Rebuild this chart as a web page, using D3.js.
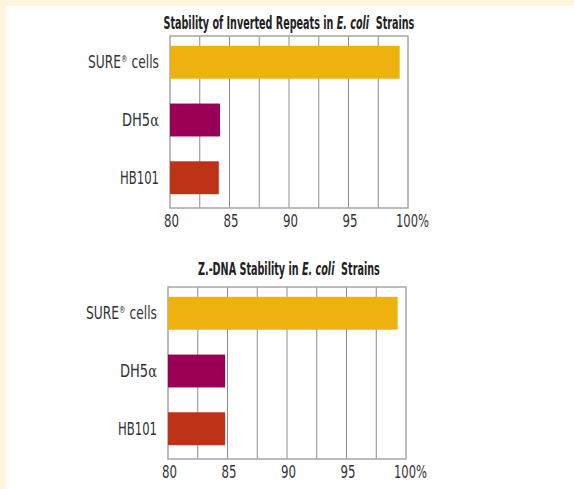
<!DOCTYPE html>
<html>
<head>
<meta charset="utf-8">
<script src="https://cdn.jsdelivr.net/npm/d3@7"></script>
<style>
  body { margin: 0; background: #fff; }
  svg { display: block; }
  .lbl { font-family: "DejaVu Sans Condensed", "DejaVu Sans", sans-serif; font-stretch: condensed; fill: #333; }
  .ttl { font-family: "DejaVu Sans Condensed", "DejaVu Sans", sans-serif; font-stretch: condensed; font-weight: bold; fill: #222; white-space: pre; }
</style>
</head>
<body>
<svg id="chart"></svg>
<script>
// strains shown in both panels (top to bottom)
var strains = ["SURE", "DH5", "HB101"]
var barColors = ["#EDB20F", "#990055", "#BE3318"]

// percent stability
var invertedRepeats = [99.3, 84.2, 84.1]
var zDnaStability = [99.3, 84.8, 84.8]

var tickValues = [80, 85, 90, 95, 100]
var tickLabels = ["80", "85", "90", "95", "100%"]
var gridValues = [82.5, 85, 87.5, 90, 92.5, 95, 97.5]

var W = 574, H = 489

// widths of the condensed face in the original, px
var labelWidths = {SURE: 71, DH5: 37, HB101: 39}

var svg = d3.select("#chart")
  .attr("width", W)
  .attr("height", H)

// cream border on top and left
svg.append("rect").attr("width", W).attr("height", H).attr("fill", "#FFF5DC")
svg.append("rect").attr("x", 6).attr("y", 6).attr("width", W - 6).attr("height", H - 6).attr("fill", "#fff")

// squeeze a text sideways so it spans `w` px starting at x0
function squeeze(node, x0, y0, w) {
  var natural = node.getComputedTextLength()
  d3.select(node).attr("transform", "translate(" + x0 + "," + y0 + ") scale(" + (w / natural) + ",1)")
}

function drawChart(opts) {
  var g = svg.append("g")

  var x = d3.scaleLinear()
    .domain([80, 100])
    .range([opts.left, opts.left + 238])

  var y = d3.scaleBand()
    .domain(strains)
    .range([opts.top, opts.top + 168])
    .paddingInner(0.43)
    .paddingOuter(0.17)

  var bottom = opts.top + 172

  // title
  var title = g.append("text")
    .attr("class", "ttl")
    .attr("font-size", 17)
  opts.title.forEach(function(p) {
    title.append("tspan")
      .attr("font-style", p.italic ? "italic" : "normal")
      .text(p.text)
  })
  squeeze(title.node(), 289 - opts.titleWidth / 2, opts.titleY, opts.titleWidth)

  // grid
  g.append("g")
    .selectAll("line")
    .data(gridValues)
    .enter()
    .append("line")
    .attr("x1", function(d) { return x(d) })
    .attr("x2", function(d) { return x(d) })
    .attr("y1", opts.top)
    .attr("y2", bottom)
    .attr("stroke", "#8c8c8c")
    .attr("stroke-width", 1)

  g.append("rect")
    .attr("x", x(80))
    .attr("y", opts.top)
    .attr("width", x(100) - x(80))
    .attr("height", bottom - opts.top)
    .attr("fill", "none")
    .attr("stroke", "#a6a6a6")
    .attr("stroke-width", 1.5)

  // bars
  g.append("g")
    .selectAll("rect")
    .data(opts.values)
    .enter()
    .append("rect")
    .attr("x", x(80))
    .attr("y", function(d, i) { return y(strains[i]) })
    .attr("width", function(d) { return x(d) - x(80) })
    .attr("height", y.bandwidth())
    .attr("fill", function(d, i) { return barColors[i] })

  // category labels
  var labels = g.append("g")
    .selectAll("text")
    .data(strains)
    .enter()
    .append("text")
    .attr("class", "lbl")
    .attr("font-size", 17)

  labels.each(function(d) {
    var t = d3.select(this)
    if (d === "SURE") {
      t.append("tspan").text("SURE")
      t.append("tspan").attr("font-size", 9).attr("dy", -6).text("®")
      t.append("tspan").attr("dy", 6).text(" cells")
    } else if (d === "DH5") {
      t.append("tspan").text("DH5")
      t.append("tspan").attr("font-family", "DejaVu Serif").attr("font-size", 17).text("α")
    } else {
      t.text(d)
    }
    squeeze(this, x(80) - 11 - labelWidths[d], y(d) + y.bandwidth() / 2 + 6, labelWidths[d])
  })

  // x tick labels; "100" stays centred on its tick and the % hangs right
  g.append("g")
    .selectAll("text")
    .data(tickValues)
    .enter()
    .append("text")
    .attr("class", "lbl")
    .attr("font-size", 17)
    .text(function(d, i) { return tickLabels[i] })
    .each(function(d, i) {
      var w = i < 4 ? 15 : 33
      squeeze(this, i < 4 ? x(d) - 6 : x(d) - 12, bottom + 19, w)
    })
}

drawChart({
  title: [{text: "Stability of Inverted Repeats in "}, {text: "E. coli", italic: true}, {text: "  Strains"}],
  titleY: 29,
  titleWidth: 251,
  left: 170,
  top: 36,
  values: invertedRepeats
})

drawChart({
  title: [{text: "Z.-DNA Stability in "}, {text: "E. coli", italic: true}, {text: "  Strains"}],
  titleY: 275,
  titleWidth: 182,
  left: 168,
  top: 287,
  values: zDnaStability
})
</script>
</body>
</html>
